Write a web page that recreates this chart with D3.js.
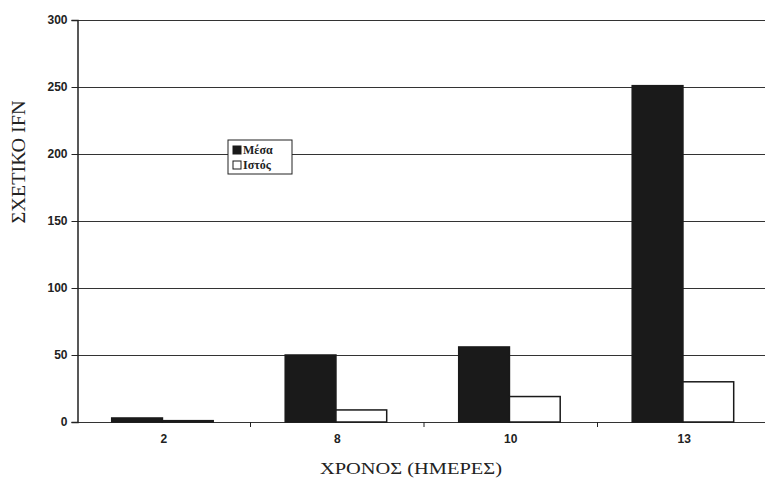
<!DOCTYPE html>
<html><head><meta charset="utf-8">
<script src="https://cdn.jsdelivr.net/npm/d3@7"></script>
<style>body{margin:0;background:#fff}svg{display:block}</style>
</head><body>
<svg id="c" width="765" height="481"></svg>
<script>
const categories = ["2", "8", "10", "13"];
const mesa = [3, 50, 56, 251];
const istos = [1, 9, 19, 30];
const seriesNames = ["Μέσα", "Ιστός"];
const yTicks = [0, 50, 100, 150, 200, 250, 300];

const svg = d3.select("#c");
const m = {l: 77, t: 20, b: 59};
const W = 765, H = 481;
const x = d3.scaleBand().domain(categories).range([m.l, m.l + 4 * 173.5]).paddingInner(0).paddingOuter(0);
const y = d3.scaleLinear().domain([0, 300]).range([H - m.b, m.t]);
const bw = x.bandwidth();
const x1 = d3.scaleBand().domain(seriesNames).range([bw * 0.2, bw * 0.785]);

// gridlines
svg.append("g").selectAll("line").data(yTicks).join("line")
  .attr("x1", m.l).attr("x2", W).attr("y1", d => Math.round(y(d)) + 0.5).attr("y2", d => Math.round(y(d)) + 0.5)
  .attr("stroke", "#333").attr("stroke-width", 1);

// bars
const data = categories.map((c, i) => ({c, vals: [mesa[i], istos[i]]}));
const g = svg.append("g").selectAll("g").data(data).join("g")
  .attr("transform", d => `translate(${x(d.c)},0)`);
g.selectAll("rect").data(d => d.vals.map((v, j) => ({v, s: seriesNames[j]}))).join("rect")
  .attr("x", d => x1(d.s)).attr("width", x1.bandwidth())
  .attr("y", d => y(d.v)).attr("height", d => y(0) - y(d.v))
  .attr("fill", d => d.s === "Μέσα" ? "#1a1a1a" : "#fff")
  .attr("stroke", "#1a1a1a").attr("stroke-width", 1.5);

// y axis
const ya = svg.append("g").attr("transform", `translate(${m.l + 0.5},0)`)
  .call(d3.axisLeft(y).tickValues(yTicks).tickSize(6).tickPadding(4));
ya.select(".domain").attr("stroke", "#222").attr("stroke-width", 1.5);
ya.selectAll(".tick line").attr("stroke", "#222");
ya.selectAll("text").attr("font-family", "Liberation Sans, Arial, sans-serif").attr("font-weight", "bold").attr("font-size", 12).attr("fill", "#222");

// x axis
const xa = svg.append("g").attr("transform", `translate(0,${y(0) + 0.5})`)
  .call(d3.axisBottom(x).tickSize(0).tickPadding(12));
xa.select(".domain").remove();
xa.selectAll("text").attr("font-family", "Liberation Sans, Arial, sans-serif").attr("font-weight", "bold").attr("font-size", 12).attr("fill", "#222");
svg.append("g").selectAll("line").data(categories.slice(1)).join("line")
  .attr("x1", d => x(d)).attr("x2", d => x(d)).attr("y1", y(0)).attr("y2", y(0) + 5)
  .attr("stroke", "#222");

// axis titles
svg.append("text").attr("transform", "translate(25,162) rotate(-90)").attr("text-anchor", "middle")
  .attr("font-family", "Liberation Serif, Times New Roman, serif").attr("font-size", 18).attr("fill", "#222")
  .attr("textLength", 123).attr("lengthAdjust", "spacingAndGlyphs")
  .text("ΣΧΕΤΙΚΟ IFN");
svg.append("text").attr("x", 411).attr("y", 474).attr("text-anchor", "middle")
  .attr("font-family", "Liberation Serif, Times New Roman, serif").attr("font-size", 17).attr("fill", "#222")
  .attr("textLength", 182).attr("lengthAdjust", "spacingAndGlyphs")
  .text("ΧΡΟΝΟΣ (ΗΜΕΡΕΣ)");

// legend
const lg = svg.append("g").attr("transform", "translate(228,140)");
lg.append("rect").attr("width", 64).attr("height", 34).attr("fill", "#fff").attr("stroke", "#222").attr("stroke-width", 1);
seriesNames.forEach((s, i) => {
  lg.append("rect").attr("x", 5).attr("y", 6 + i * 15).attr("width", 8).attr("height", 8)
    .attr("fill", i === 0 ? "#1a1a1a" : "#fff").attr("stroke", "#1a1a1a");
  lg.append("text").attr("x", 15).attr("y", 14 + i * 15)
    .attr("font-family", "Liberation Serif, Times New Roman, serif").attr("font-weight", "bold").attr("font-size", 12).attr("fill", "#222")
    .text(s);
});
</script>
</body></html>
